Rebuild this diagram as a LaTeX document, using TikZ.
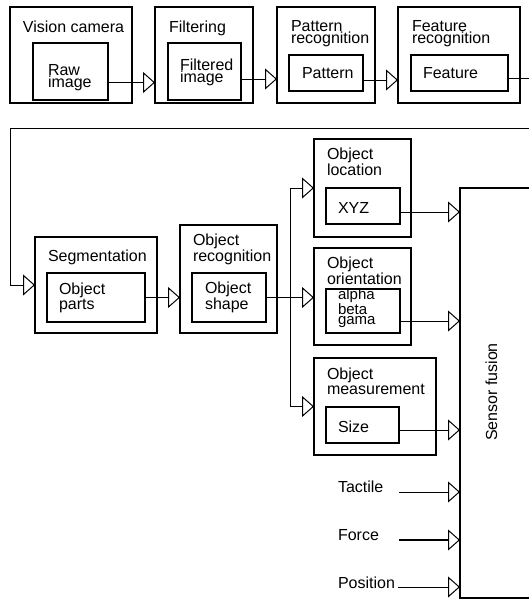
\documentclass[tikz,border=0pt]{standalone}
\usepackage{fontspec}
\setmainfont{Liberation Sans}
\usetikzlibrary{arrows.meta}
\tikzset{
  box/.style={draw, line width=1.1pt, anchor=north west, inner sep=0pt, outer sep=0pt},
  lbl/.style={inner sep=0pt, outer sep=0pt, anchor=base west, align=left, font=\fontsize{16}{12}\selectfont},
  small/.style={lbl, font=\fontsize{15}{10}\selectfont},
  conn/.style={line width=1pt, -{Triangle[open, length=12pt, width=21pt, line width=1pt]}},
}
\begin{document}
\begin{tikzpicture}[x=1pt, y=-1pt]
\useasboundingbox (0,0) rectangle (529,600);

% top row
\node[box, minimum width=122pt, minimum height=96pt] (vc) at (10,7) {};
\node[box, minimum width=75pt, minimum height=57pt] (raw) at (33,43) {};
\node[box, minimum width=98pt, minimum height=96pt] (filt) at (155,7) {};
\node[box, minimum width=73pt, minimum height=57pt] (fimg) at (168,43) {};
\node[box, minimum width=98pt, minimum height=96pt] (pat) at (277,7) {};
\node[box, minimum width=74pt, minimum height=36pt] (patin) at (289,55) {};
\node[box, minimum width=122pt, minimum height=96pt] (feat) at (398,7) {};
\node[box, minimum width=97pt, minimum height=36pt] (featin) at (411,55) {};

% (base anchor of a multi-line label = baseline of its last line)
\node[lbl] (tvc) at (23,32) {Vision camera};
\node[lbl] (traw) at (48,87) {Raw\\image};
\node[lbl] (tfilt) at (169,32) {Filtering};
\node[lbl] (tfimg) at (180,82) {Filtered\\image};
\node[lbl] (tpat) at (291,43) {Pattern\\recognition};
\node[lbl] (tpatin) at (302,78) {Pattern};
\node[lbl] (tfeat) at (412,43) {Feature\\recognition};
\node[lbl] (tfeatin) at (423,78) {Feature};

% second row
\node[box, minimum width=122pt, minimum height=96pt] (seg) at (35,237) {};
\node[box, minimum width=98pt, minimum height=49pt] (parts) at (47,273) {};
\node[box, minimum width=97pt, minimum height=108pt] (orec) at (180,225) {};
\node[box, minimum width=74pt, minimum height=49pt] (shape) at (192,273) {};

\node[lbl] (tseg) at (48,261) {Segmentation};
\node[lbl] (tparts) at (59,309) {Object\\parts};
\node[lbl] (torec) at (193,261) {Object\\recognition};
\node[lbl] (tshape) at (205,309) {Object\\shape};

% right column
\node[box, minimum width=97pt, minimum height=98pt] (loc) at (314,139) {};
\node[box, minimum width=74pt, minimum height=36pt] (xyz) at (326,188) {};
\node[box, minimum width=97pt, minimum height=97pt] (ori) at (314,248) {};
\node[box, minimum width=74pt, minimum height=44pt] (ang) at (326,289) {};
\node[box, minimum width=122pt, minimum height=97pt] (meas) at (314,358) {};
\node[box, minimum width=73pt, minimum height=36pt] (size) at (326,407) {};

\node[lbl] (tloc) at (327,175) {Object\\location};
\node[lbl] (txyz) at (338,213) {XYZ};
\node[lbl] (tori) at (327,284) {Object\\orientation};
\node[small] (tang) at (338,324) {alpha\\beta\\gama};
\node[lbl] (tmeas) at (327,394) {Object\\measurement};
\node[lbl] (tsize) at (338,432) {Size};

% sensor fusion
\node[box, minimum width=110pt, minimum height=410pt] (sf) at (460,188) {};
\node[lbl, anchor=base, rotate=90] (tsf) at (497,392) {Sensor fusion};

\node[lbl] (ttac) at (338,492) {Tactile};
\node[lbl] (tfor) at (338,540) {Force};
\node[lbl] (tpos) at (338,588) {Position};

\coordinate (c1) at (531,128);
\coordinate (c2) at (10,128);
\coordinate (br) at (290,297);
\coordinate (t0) at (399,492);
\coordinate (f0) at (399,540);
\coordinate (p0) at (398,587);

% connectors
\draw[conn] ([yshift=-11pt]raw.east) -- ([yshift=-11pt]raw.east -| filt.west);
\draw[conn] ([yshift=-7.5pt]fimg.east) -- ([yshift=-7.5pt]fimg.east -| pat.west);
\draw[conn] ([yshift=-7pt]patin.east) -- ([yshift=-7pt]patin.east -| feat.west);
\draw[conn] ([yshift=-5pt]featin.east) -| (c1) -- (c2) |- (seg.west);
\draw[conn] (parts.east) -- (parts.east -| orec.west);
\draw[conn] (shape.east) -- (shape.east -| ori.west);
\draw[conn] (br) |- (loc.west);
\draw[conn] (br) |- (meas.west);
\draw[conn] ([yshift=-6pt]xyz.east) -- ([yshift=-6pt]xyz.east -| sf.west);
\draw[conn] ([yshift=-10pt]ang.east) -- ([yshift=-10pt]ang.east -| sf.west);
\draw[conn] ([yshift=-5pt]size.east) -- ([yshift=-5pt]size.east -| sf.west);
\draw[conn] (t0) -- (t0 -| sf.west);
\draw[conn, line width=1.8pt] (f0) -- (f0 -| sf.west);
\draw[conn] (p0) -- (p0 -| sf.west);
\end{tikzpicture}
\end{document}
